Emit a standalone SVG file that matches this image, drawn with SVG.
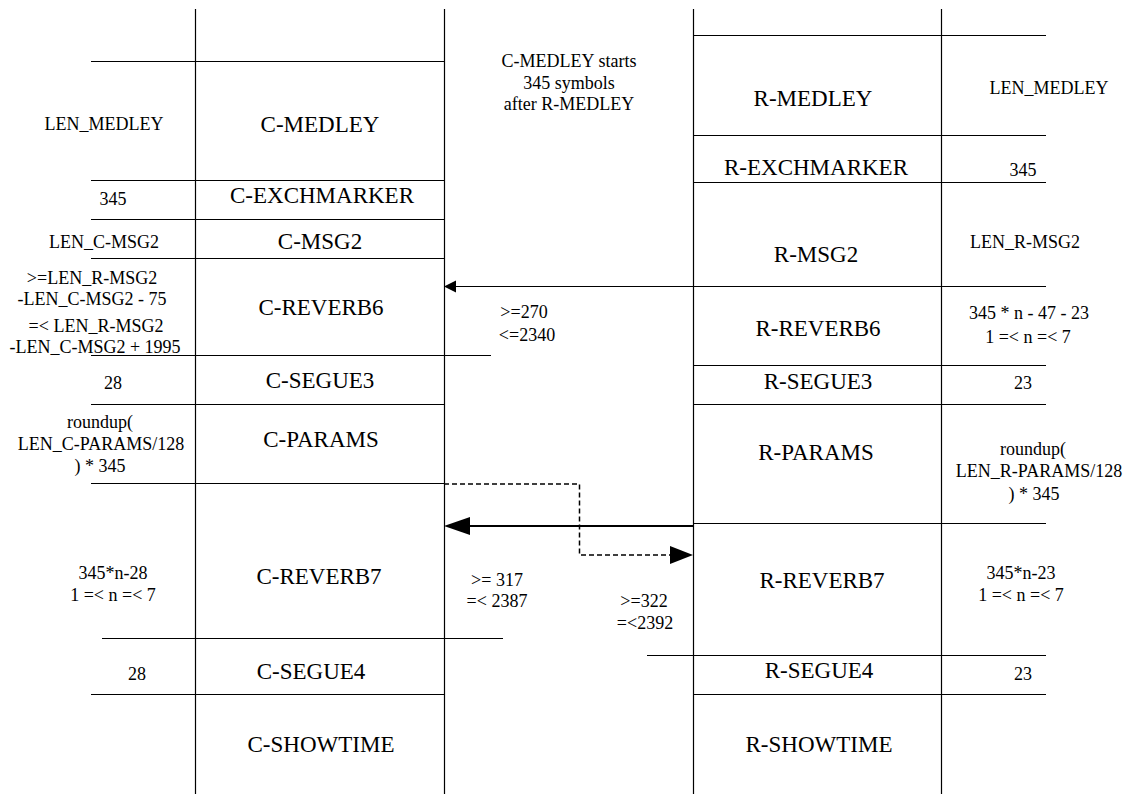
<svg xmlns="http://www.w3.org/2000/svg" width="1136" height="794" viewBox="0 0 1136 794">
<style>
.ln{stroke:#000;stroke-width:1.2;fill:none}
.big{font-family:'Liberation Serif','Times New Roman',Tinos,'DejaVu Serif',serif;font-size:23px;fill:#000;text-anchor:middle}
.sm{font-family:'Liberation Serif','Times New Roman',Tinos,'DejaVu Serif',serif;font-size:18px;fill:#000;text-anchor:middle}
.ah{fill:#000;stroke:none}
</style>
<rect width="1136" height="794" fill="#fff"/>
<g id="lifelines">
<line class="ln" x1="195.5" y1="9" x2="195.5" y2="794"/>
<line class="ln" x1="444.5" y1="9" x2="444.5" y2="794"/>
<line class="ln" x1="693.5" y1="9" x2="693.5" y2="794"/>
<line class="ln" x1="941.5" y1="9" x2="941.5" y2="794"/>
</g>
<g id="c-medley">
<line class="ln" x1="91" y1="61.5" x2="444" y2="61.5"/>
<text class="sm" x="104" y="130">LEN_MEDLEY</text>
<text class="big" x="320" y="132">C-MEDLEY</text>
</g>
<g id="c-exchmarker">
<line class="ln" x1="91" y1="180.5" x2="444" y2="180.5"/>
<text class="sm" x="113" y="205">345</text>
<text class="big" x="322" y="203">C-EXCHMARKER</text>
</g>
<g id="c-msg2">
<line class="ln" x1="91" y1="219.5" x2="444" y2="219.5"/>
<text class="sm" x="104" y="248">LEN_C-MSG2</text>
<text class="big" x="320" y="249">C-MSG2</text>
</g>
<g id="c-reverb6">
<line class="ln" x1="91" y1="258.5" x2="444" y2="258.5"/>
<text class="sm" x="92" y="284">&gt;=LEN_R-MSG2</text>
<text class="sm" x="92" y="305">-LEN_C-MSG2 - 75</text>
<text class="sm" x="96" y="332">=&lt; LEN_R-MSG2</text>
<text class="sm" x="95" y="353">-LEN_C-MSG2 + 1995</text>
<text class="big" x="321" y="315">C-REVERB6</text>
</g>
<g id="c-segue3">
<line class="ln" x1="91" y1="355.5" x2="491" y2="355.5"/>
<text class="sm" x="113" y="389">28</text>
<text class="big" x="320" y="388">C-SEGUE3</text>
</g>
<g id="c-params">
<line class="ln" x1="91" y1="404.5" x2="444" y2="404.5"/>
<text class="sm" x="100" y="428">roundup(</text>
<text class="sm" x="101" y="450">LEN_C-PARAMS/128</text>
<text class="sm" x="100" y="472">) * 345</text>
<text class="big" x="321" y="447">C-PARAMS</text>
</g>
<g id="c-reverb7">
<line class="ln" x1="91" y1="483.5" x2="444" y2="483.5"/>
<text class="sm" x="113" y="579">345*n-28</text>
<text class="sm" x="113" y="601">1 =&lt; n =&lt; 7</text>
<text class="big" x="319" y="584">C-REVERB7</text>
</g>
<g id="c-segue4">
<line class="ln" x1="102" y1="638.5" x2="503" y2="638.5"/>
<text class="sm" x="137" y="680">28</text>
<text class="big" x="311" y="679">C-SEGUE4</text>
</g>
<g id="c-showtime">
<line class="ln" x1="91" y1="694.5" x2="444" y2="694.5"/>
<text class="big" x="321" y="752">C-SHOWTIME</text>
</g>
<g id="note">
<text class="sm" x="569" y="67">C-MEDLEY starts</text>
<text class="sm" x="569" y="89">345 symbols</text>
<text class="sm" x="569" y="110">after R-MEDLEY</text>
</g>
<g id="r-medley">
<line class="ln" x1="693" y1="35.5" x2="1046" y2="35.5"/>
<text class="big" x="813" y="106">R-MEDLEY</text>
<text class="sm" x="1049" y="94">LEN_MEDLEY</text>
</g>
<g id="r-exchmarker">
<line class="ln" x1="693" y1="135.5" x2="1046" y2="135.5"/>
<text class="big" x="816" y="175">R-EXCHMARKER</text>
<text class="sm" x="1023" y="176">345</text>
</g>
<g id="r-msg2">
<line class="ln" x1="693" y1="182.5" x2="1046" y2="182.5"/>
<text class="big" x="816" y="262">R-MSG2</text>
<text class="sm" x="1025" y="248">LEN_R-MSG2</text>
</g>
<g id="r-reverb6">
<text class="big" x="818" y="336">R-REVERB6</text>
<text class="sm" x="1029" y="319">345 * n - 47 - 23</text>
<text class="sm" x="1028" y="343">1 =&lt; n =&lt; 7</text>
</g>
<g id="r-segue3">
<line class="ln" x1="693" y1="365.5" x2="1046" y2="365.5"/>
<text class="big" x="818" y="389">R-SEGUE3</text>
<text class="sm" x="1023" y="389">23</text>
</g>
<g id="r-params">
<line class="ln" x1="693" y1="404.5" x2="1046" y2="404.5"/>
<text class="big" x="816" y="460">R-PARAMS</text>
<text class="sm" x="1033" y="455">roundup(</text>
<text class="sm" x="1039" y="477">LEN_R-PARAMS/128</text>
<text class="sm" x="1034" y="500">) * 345</text>
</g>
<g id="r-reverb7">
<line class="ln" x1="693" y1="523.5" x2="1046" y2="523.5"/>
<text class="big" x="822" y="588">R-REVERB7</text>
<text class="sm" x="1021" y="579">345*n-23</text>
<text class="sm" x="1021" y="601">1 =&lt; n =&lt; 7</text>
</g>
<g id="r-segue4">
<line class="ln" x1="647" y1="655.5" x2="1046" y2="655.5"/>
<text class="big" x="819" y="678">R-SEGUE4</text>
<text class="sm" x="1023" y="680">23</text>
</g>
<g id="r-showtime">
<line class="ln" x1="693" y1="694.5" x2="1046" y2="694.5"/>
<text class="big" x="819" y="752">R-SHOWTIME</text>
</g>
<g id="connectors">
<line class="ln" x1="1046" y1="286.5" x2="454" y2="286.5"/>
<polygon class="ah" points="444,286.5 456,280.5 456,292.5"/>
<text class="sm" x="524" y="318">&gt;=270</text>
<text class="sm" x="527" y="341">&lt;=2340</text>
<line x1="693" y1="526" x2="468" y2="526" stroke="#000" stroke-width="2"/>
<polygon class="ah" points="444,526 470,517 470,535"/>
<polyline points="444,484 579.5,484 579.5,555 672,555" fill="none" stroke="#000" stroke-width="1.5" stroke-dasharray="5,3"/>
<polygon class="ah" points="693,555 670,546 670,564"/>
<text class="sm" x="497" y="586">&gt;= 317</text>
<text class="sm" x="497" y="607">=&lt; 2387</text>
<text class="sm" x="644" y="607">&gt;=322</text>
<text class="sm" x="645" y="629">=&lt;2392</text>
</g>
</svg>
